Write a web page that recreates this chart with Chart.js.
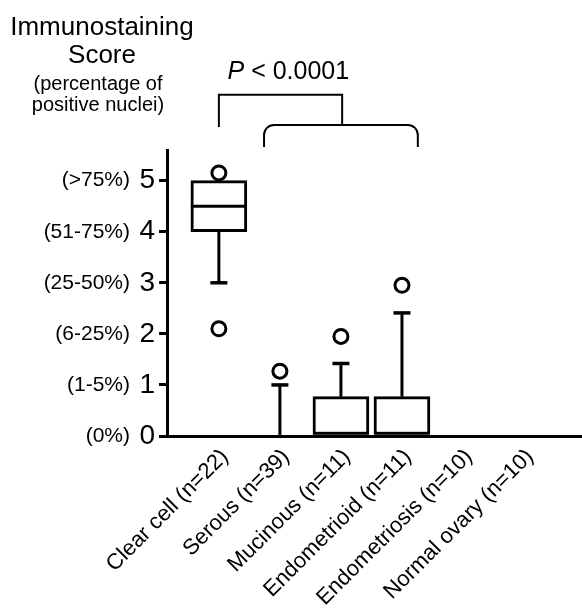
<!DOCTYPE html>
<html>
<head>
<meta charset="utf-8">
<script src="https://cdn.jsdelivr.net/npm/chart.js@4.4.1/dist/chart.umd.min.js"></script>
<style>
  html, body { margin: 0; padding: 0; background: #fff; }
</style>
</head>
<body>
<canvas id="chart" width="582" height="616"></canvas>
<script>
// Data
const categories = [
  "Clear cell (n=22)",
  "Serous (n=39)",
  "Mucinous (n=11)",
  "Endometrioid (n=11)",
  "Endometriosis (n=10)",
  "Normal ovary (n=10)",
];
const scoreTicks = [0, 1, 2, 3, 4, 5];
const scoreLabels = ["(0%)", "(1-5%)", "(6-25%)", "(25-50%)", "(51-75%)", "(>75%)"];

const boxLow = [4, 0, 0, 0, 0, 0];
const boxHigh = [5, 0, 0.77, 0.77, 0, 0];
const medians = [4.5, 0, 0, 0, 0, 0];
const whiskerLow = [3, 0, 0, 0, 0, 0];
const whiskerHigh = [5, 1, 1.42, 2.41, 0, 0];

const outlierCat = [0, 0, 1, 2, 3];
const outlierScore = [5.15, 2.1, 1.27, 1.95, 2.95];

// bracket for the P value, in chart units
const pText = "P < 0.0001";
const upperBracket = { from: 0, to: 2.02, top: 6.68, leftEnd: 6.05, rightEnd: 6.09 };
const lowerBracket = { from: 0.74, to: 3.26, top: 6.09, end: 5.66 };

const FONT = "'Liberation Sans', Arial, Helvetica, sans-serif";

// boxes as floating bars
const boxData = [];
categories.forEach((_, i) => {
  if (boxHigh[i] > boxLow[i]) boxData.push({ x: i, y: [boxLow[i], boxHigh[i]] });
});
const outlierData = outlierCat.map((c, i) => ({ x: c, y: outlierScore[i] }));

const integerTicks = (scale) => {
  scale.ticks = scoreTicks.map((v) => ({ value: v }));
};

// whiskers + medians, drawn right after the boxes
const boxPlotExtras = {
  id: "boxPlotExtras",
  afterDatasetDraw(chart, args) {
    if (args.index !== 0) return;
    const { ctx, scales } = chart;
    const x = scales.x, y = scales.y;
    const cap = 17;
    const boxW = 56;
    ctx.save();
    ctx.strokeStyle = "#000";
    ctx.lineCap = "butt";
    categories.forEach((_, i) => {
      const cx = x.getPixelForValue(i);
      ctx.lineWidth = 3;
      if (whiskerHigh[i] > boxHigh[i]) {
        ctx.beginPath();
        ctx.moveTo(cx, y.getPixelForValue(boxHigh[i]));
        ctx.lineTo(cx, y.getPixelForValue(whiskerHigh[i]));
        ctx.stroke();
        ctx.lineWidth = 3.5;
        ctx.beginPath();
        ctx.moveTo(cx - cap / 2, y.getPixelForValue(whiskerHigh[i]));
        ctx.lineTo(cx + cap / 2, y.getPixelForValue(whiskerHigh[i]));
        ctx.stroke();
      }
      ctx.lineWidth = 3;
      if (whiskerLow[i] < boxLow[i]) {
        ctx.beginPath();
        ctx.moveTo(cx, y.getPixelForValue(boxLow[i]));
        ctx.lineTo(cx, y.getPixelForValue(whiskerLow[i]));
        ctx.stroke();
        ctx.lineWidth = 3.5;
        ctx.beginPath();
        ctx.moveTo(cx - cap / 2, y.getPixelForValue(whiskerLow[i]));
        ctx.lineTo(cx + cap / 2, y.getPixelForValue(whiskerLow[i]));
        ctx.stroke();
      }
      if (boxHigh[i] > boxLow[i]) {
        ctx.lineWidth = 3;
        const my = y.getPixelForValue(medians[i]);
        ctx.beginPath();
        ctx.moveTo(cx - boxW / 2, my);
        ctx.lineTo(cx + boxW / 2, my);
        ctx.stroke();
      }
    });
    ctx.restore();
  },
};

// axis title and P value bracket
const annotations = {
  id: "annotations",
  afterDraw(chart) {
    const { ctx, scales } = chart;
    const x = scales.x, y = scales.y;
    ctx.save();
    ctx.fillStyle = "#000";
    ctx.textAlign = "center";
    ctx.textBaseline = "alphabetic";
    ctx.font = "26px " + FONT;
    ctx.fillText("Immunostaining", 102, 35);
    ctx.fillText("Score", 102, 63);
    ctx.font = "20px " + FONT;
    ctx.fillText("(percentage of", 98, 90);
    ctx.fillText("positive nuclei)", 98, 111);

    // P value text: italic P
    ctx.font = "italic 25px " + FONT;
    const pW = ctx.measureText("P").width;
    ctx.font = "25px " + FONT;
    const restW = ctx.measureText(pText.slice(1)).width;
    const cx = (x.getPixelForValue(upperBracket.from) + x.getPixelForValue(lowerBracket.to)) / 2 - 30;
    const left = cx - (pW + restW) / 2;
    ctx.textAlign = "left";
    ctx.font = "italic 25px " + FONT;
    ctx.fillText("P", left, 79);
    ctx.font = "25px " + FONT;
    ctx.fillText(pText.slice(1), left + pW, 79);

    ctx.strokeStyle = "#000";
    ctx.lineWidth = 2;
    const ux1 = x.getPixelForValue(upperBracket.from);
    const ux2 = x.getPixelForValue(upperBracket.to);
    const uy = y.getPixelForValue(upperBracket.top);
    ctx.beginPath();
    ctx.moveTo(ux1, y.getPixelForValue(upperBracket.leftEnd));
    ctx.lineTo(ux1, uy);
    ctx.lineTo(ux2, uy);
    ctx.lineTo(ux2, y.getPixelForValue(upperBracket.rightEnd));
    ctx.stroke();

    const lx1 = x.getPixelForValue(lowerBracket.from);
    const lx2 = x.getPixelForValue(lowerBracket.to);
    const ly = y.getPixelForValue(lowerBracket.top);
    const lEnd = y.getPixelForValue(lowerBracket.end);
    const r = 10;
    ctx.beginPath();
    ctx.moveTo(lx1, lEnd);
    ctx.arcTo(lx1, ly, lx1 + r, ly, r);
    ctx.lineTo(lx2 - r, ly);
    ctx.arcTo(lx2, ly, lx2, ly + r, r);
    ctx.lineTo(lx2, lEnd);
    ctx.stroke();
    ctx.restore();
  },
};

new Chart(document.getElementById("chart"), {
  type: "bar",
  data: {
    datasets: [
      {
        type: "bar",
        data: boxData,
        backgroundColor: "#fff",
        borderColor: "#000",
        borderWidth: 3,
        borderSkipped: false,
        barThickness: 56,
        order: 1,
      },
      {
        type: "scatter",
        data: outlierData,
        pointStyle: "circle",
        pointRadius: 7,
        pointBorderWidth: 3,
        pointBackgroundColor: "#fff",
        pointBorderColor: "#000",
        showLine: false,
        clip: false,
        order: 0,
      },
    ],
  },
  options: {
    responsive: false,
    animation: false,
    devicePixelRatio: 1,
    layout: { autoPadding: false, padding: { top: 150, left: 0, right: 0, bottom: 0 } },
    plugins: { legend: { display: false }, tooltip: { enabled: false } },
    scales: {
      x: {
        type: "linear",
        offset: false,
        min: -0.85,
        max: 5.95,
        afterBuildTicks: (s) => { s.ticks = categories.map((_, i) => ({ value: i })); },
        afterFit: (s) => {
          s.height = 180;
          s.paddingLeft = 0;
          s.paddingRight = 0;
        },
        grid: { display: false, offset: false },
        border: { display: true, color: "#000", width: 3 },
        ticks: {
          autoSkip: false,
          minRotation: 45,
          maxRotation: 45,
          padding: 0,
          labelOffset: 6,
          color: "#000",
          font: { family: FONT, size: 22 },
          callback: (v) => categories[v],
        },
      },
      y: {
        type: "linear",
        position: "left",
        min: 0,
        max: 5.6,
        weight: 0,
        afterBuildTicks: integerTicks,
        afterFit: (s) => { s.width = 33; },
        grid: { drawOnChartArea: false, drawTicks: true, tickLength: 8, lineWidth: 3, color: "#000" },
        border: { display: true, color: "#000", width: 3 },
        ticks: { padding: 4, color: "#000", font: { family: FONT, size: 28 } },
      },
      y2: {
        type: "linear",
        position: "left",
        min: 0,
        max: 5.6,
        weight: 1,
        afterBuildTicks: integerTicks,
        afterFit: (s) => { s.width = 134; },
        grid: { display: false },
        border: { display: false },
        ticks: {
          padding: -4,
          color: "#000",
          font: { family: FONT, size: 21 },
          callback: (v) => scoreLabels[v],
        },
      },
    },
  },
  plugins: [boxPlotExtras, annotations],
});
</script>
</body>
</html>
